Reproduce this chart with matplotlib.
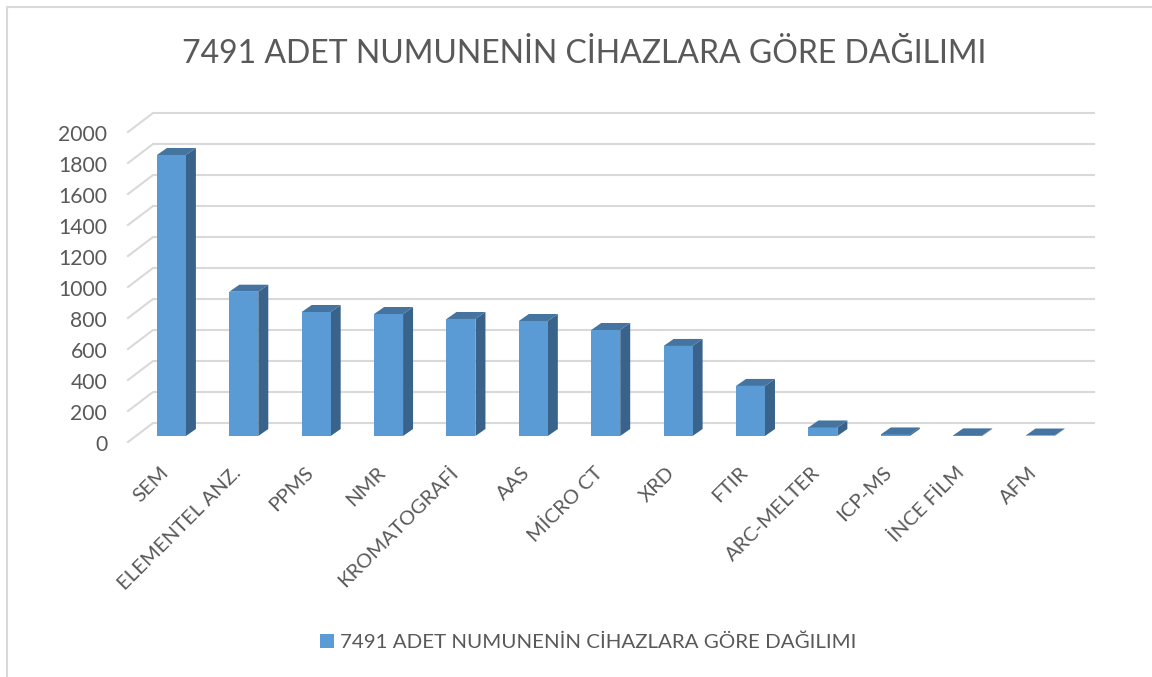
import matplotlib
matplotlib.use("Agg")
import matplotlib.pyplot as plt
from matplotlib.patches import Polygon
from matplotlib.transforms import ScaledTranslation, IdentityTransform
from matplotlib.lines import Line2D

categories = ["SEM", "ELEMENTEL ANZ.", "PPMS", "NMR", "KROMATOGRAFİ", "AAS", "MİCRO CT",
              "XRD", "FTIR", "ARC-MELTER", "ICP-MS", "İNCE FİLM", "AFM"]
values = [1813, 931, 800, 787, 755, 742, 684, 581, 323, 55, 10, 4, 3]
yticks = [0, 200, 400, 600, 800, 1000, 1200, 1400, 1600, 1800, 2000]
title = "7491 ADET NUMUNENİN CİHAZLARA GÖRE DAĞILIMI"

W, H = 1152, 677
FRONT, SIDE, TOP = "#5B9BD5", "#39638A", "#44749F"
GRID, TEXT, FRAME = "#D9D9D9", "#595959", "#D9D9D9"
plt.rcParams["font.family"] = ["Lato", "DejaVu Sans"]

fig = plt.figure(figsize=(W / 100, H / 100), dpi=100, facecolor="white")
ax = fig.add_axes([128 / W, 1 - 436 / H, 941 / W, 310 / H])
ax.set_xlim(-0.6, 12.4)
ax.set_ylim(0, 2000)
ax.patch.set_alpha(0)
for s in ax.spines.values():
    s.set_visible(False)
ax.tick_params(length=0)

def px(x, v, dx=0.0, dy=0.0):
    """data point -> display pixels (y up), shifted by dx, dy pixels (y down)."""
    p = ax.transData.transform((x, v))
    return (p[0] + dx, p[1] - dy)

# walls: gridlines
x0 = ax.get_xlim()[0]
for v in yticks:
    a = px(x0, v, 0, 6)
    b = px(x0, v, 25, -13)
    c = (1094, b[1])
    fig.add_artist(Line2D([a[0], b[0], c[0]], [a[1], b[1], c[1]], color=GRID, lw=1.5,
                          transform=IdentityTransform(), zorder=1, solid_joinstyle="miter"))

# bars
bw = 0.4
DX, DY = 10, 7
ax.set_zorder(3)
ax.bar(range(len(values)), values, width=bw, color=FRONT, zorder=5)
for i, v in enumerate(values):
    l, r = i - bw / 2, i + bw / 2
    side = [px(r, 0), px(r, v), px(r, v, DX, -DY), px(r, 0, DX, -DY)]
    top = [px(l, v), px(r, v), px(r, v, DX, -DY), px(l, v, DX, -DY)]
    ax.add_patch(Polygon(side, closed=True, fc=SIDE, ec="none", transform=IdentityTransform(), zorder=4))
    ax.add_patch(Polygon(top, closed=True, fc=TOP, ec="none", transform=IdentityTransform(), zorder=6))

# ticks
ax.set_yticks(yticks)
ax.set_yticklabels([str(t) for t in yticks], fontsize=15.2, color=TEXT)
ax.tick_params(axis="y", pad=15)
off = ScaledTranslation(0, -7 / 100, fig.dpi_scale_trans)
for lbl in ax.get_yticklabels():
    lbl.set_transform(lbl.get_transform() + off)

ax.set_xticks(range(len(categories)))
ax.set_xticklabels(categories, fontsize=14.6, color=TEXT, rotation=45, ha="right",
                   va="top", rotation_mode="anchor")
ax.tick_params(axis="x", pad=20)
offx = ScaledTranslation(-12 / 100, 0, fig.dpi_scale_trans)
for lbl in ax.get_xticklabels():
    lbl.set_transform(lbl.get_transform() + offx)

# title
fig.text(584 / W, 1 - 63 / H, title, fontsize=23, color=TEXT, ha="center", va="baseline")

# legend
fig.patches.append(plt.Rectangle((320 / W, 1 - 648 / H), 14 / W, 14 / H, fc=FRONT, ec="none",
                                 transform=fig.transFigure, figure=fig))
fig.text(340 / W, 1 - 648 / H, title, fontsize=14.75, color=TEXT, ha="left", va="baseline")

# chart frame
fig.add_artist(Line2D([7 / W, 7 / W, 1], [0, 1 - 7 / H, 1 - 7 / H], color=FRAME, lw=1.5,
                      transform=fig.transFigure))

fig.savefig("out.png", dpi=100, facecolor="white")
